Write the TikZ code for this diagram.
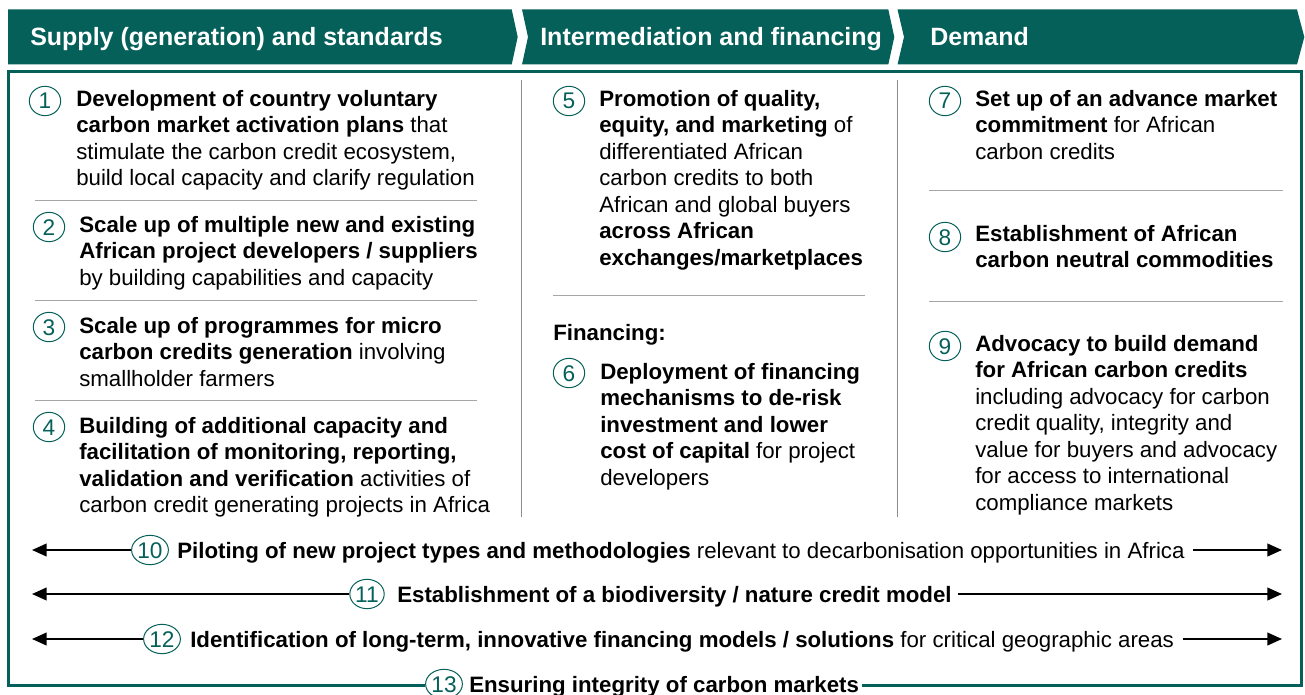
\documentclass[tikz,border=0pt]{standalone}
\usepackage{fontspec}
\setmainfont{Liberation Sans}
\usetikzlibrary{shapes.geometric,arrows.meta}
\definecolor{teal1}{HTML}{06605A}
\definecolor{sepgray}{HTML}{A6A6A6}
\definecolor{divgray}{HTML}{8C8C8C}
\newcommand\bodyfnt{\fontsize{16.7}{19.875}\selectfont}
\newcommand\headfnt{\fontsize{18.75}{22}\selectfont\bfseries}
\newcommand\numfnt{\fontsize{17}{19}\selectfont}
\begin{document}
\begin{tikzpicture}[x=0.75pt,y=-0.75pt,
  htext/.style={font=\headfnt, text=white, anchor=base west, inner sep=0pt},
  body/.style={font=\bodyfnt, anchor=north west, inner sep=0pt, align=left},
  num/.style={ellipse, draw=teal1, line width=0.75pt, text=teal1, font=\numfnt,
    minimum width=23.5pt, minimum height=22pt, inner sep=0.3pt, text height=12pt, text depth=0pt},
  rowtext/.style={font=\bodyfnt, anchor=west, inner sep=0pt, text height=12pt, text depth=0pt},
  sep/.style={draw=sepgray, line width=0.75pt},
  vdiv/.style={draw=divgray, line width=0.75pt},
  frame/.style={draw=teal1, line width=2.25pt},
  arr/.style={line width=1.5pt, -{Triangle[length=11pt,width=9.5pt]}}]
\useasboundingbox (0,0) rectangle (1305,695);

% header chevrons
\fill[teal1] (8,9.5) -- (511.7,9.5) -- (517.7,37) -- (511.7,64.5) -- (8,64.5) -- cycle;
\fill[teal1] (522,9.5) -- (888.3,9.5) -- (894.3,37) -- (888.3,64.5) -- (522,64.5) -- (528,37) -- cycle;
\fill[teal1] (897.5,9.5) -- (1297,9.5) -- (1304.3,37) -- (1297,64.5) -- (897.5,64.5) -- (904,37) -- cycle;
\node[htext] (h1) at (30,46) {Supply (generation) and standards};
\node[htext] (h2) at (540,46) {Intermediation and financing};
\node[htext] (h3) at (930,46) {Demand};

% column dividers
\draw[vdiv] (521,80) -- (521,517);
\draw[vdiv] (897,80) -- (897,517);

% column 1
\node[num] (c1) at (45,101) {1};
\node[body] (t1) at (76,87.4) {\strut\textbf{Development of country voluntary}\\\textbf{carbon market activation plans} that\\stimulate the carbon credit ecosystem,\\build local capacity and clarify regulation};
\draw[sep] (35,201) -- (477,201);
\node[num] (c2) at (49,227) {2};
\node[body] (t2) at (79,213.4) {\strut\textbf{Scale up of multiple new and existing}\\\textbf{African project developers / suppliers}\\by building capabilities and capacity};
\draw[sep] (35,300) -- (477,300);
\node[num] (c3) at (49,327) {3};
\node[body] (t3) at (79,314.4) {\strut\textbf{Scale up of programmes for micro}\\\textbf{carbon credits generation} involving\\smallholder farmers};
\draw[sep] (35,400) -- (477,400);
\node[num] (c4) at (49,427) {4};
\node[body] (t4) at (79,414.4) {\strut\textbf{Building of additional capacity and}\\\textbf{facilitation of monitoring, reporting,}\\\textbf{validation and verification} activities of\\carbon credit generating projects in Africa};

% column 2
\node[num] (c5) at (569,101) {5};
\node[body] (t5) at (599,87.4) {\strut\textbf{Promotion of quality,}\\\textbf{equity, and marketing} of\\differentiated African\\carbon credits to both\\African and global buyers\\\textbf{across African}\\\textbf{exchanges/marketplaces}};
\draw[sep] (553,295) -- (865,295);
\node[body] (fin) at (553,321.4) {\strut\textbf{Financing:}};
\node[num] (c6) at (569,373) {6};
\node[body] (t6) at (600,360.4) {\strut\textbf{Deployment of financing}\\\textbf{mechanisms to de-risk}\\\textbf{investment and lower}\\\textbf{cost of capital} for project\\developers};

% column 3
\node[num] (c7) at (945,101) {7};
\node[body] (t7) at (975,87.4) {\strut\textbf{Set up of an advance market}\\\textbf{commitment} for African\\carbon credits};
\draw[sep] (929,191) -- (1283,191);
\node[num] (c8) at (945,237) {8};
\node[body] (t8) at (975,222.4) {\strut\textbf{Establishment of African}\\\textbf{carbon neutral commodities}};
\draw[sep] (929,301) -- (1283,301);
\node[num] (c9) at (945,346) {9};
\node[body] (t9) at (975,332.4) {\strut\textbf{Advocacy to build demand}\\\textbf{for African carbon credits}\\including advocacy for carbon\\credit quality, integrity and\\value for buyers and advocacy\\for access to international\\compliance markets};

% cross-cutting rows
\node[num] (c10) at (150,550) {10};
\node[rowtext] (t10) at (177,550) {\textbf{Piloting of new project types and methodologies} relevant to decarbonisation opportunities in Africa};
\coordinate (l10) at (32,550);
\coordinate (r10) at (1282,550);
\draw[arr] (c10.west) -- (l10);
\draw[arr] ([xshift=6.5pt]t10.east) -- (r10);

\node[num] (c11) at (367,594) {11};
\node[rowtext] (t11) at (397,594) {\textbf{Establishment of a biodiversity / nature credit model}};
\coordinate (l11) at (32,594);
\coordinate (r11) at (1282,594);
\draw[arr] (c11.west) -- (l11);
\draw[arr] ([xshift=4.5pt]t11.east) -- (r11);

\node[num] (c12) at (162,639) {12};
\node[rowtext] (t12) at (190,639) {\textbf{Identification of long-term, innovative financing models / solutions} for critical geographic areas};
\coordinate (l12) at (32,639);
\coordinate (r12) at (1282,639);
\draw[arr] (c12.west) -- (l12);
\draw[arr] ([xshift=6.5pt]t12.east) -- (r12);

% frame with item 13
\node[num, fill=white] (c13) at (444,684) {13};
\node[rowtext] (t13) at (469,684) {\textbf{Ensuring integrity of carbon markets}};
\coordinate (fbl) at (8.5,685);
\coordinate (ftl) at (8.5,72);
\coordinate (ftr) at (1301.5,72);
\coordinate (fbr) at (1301.5,685);
\draw[frame, line join=miter] (c13.west |- fbl) -- (fbl) -- (ftl) -- (ftr) -- (fbr) -- ([xshift=2pt]t13.east |- fbr);
\end{tikzpicture}
\end{document}
